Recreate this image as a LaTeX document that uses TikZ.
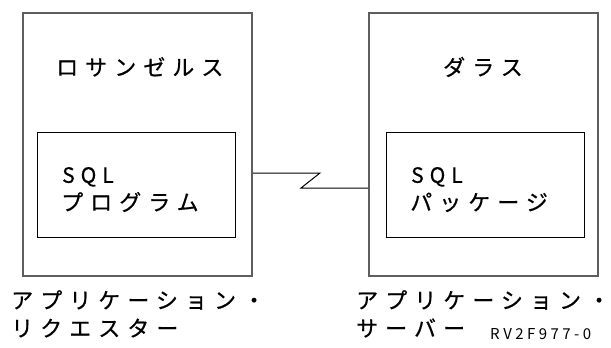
\documentclass[tikz,border=0pt]{standalone}
\usepackage{fontspec}
\newfontfamily\jp[LetterSpace=32,FakeBold=0.6]{Noto Sans CJK JP}
\newfontfamily\jplat[FakeBold=0.6]{Noto Sans CJK JP}
\newfontfamily\jpsmall[LetterSpace=23]{Noto Sans CJK JP}
\definecolor{framegray}{HTML}{5E5E5E}
\newcommand\sqltext{S\kern6pt Q\kern6pt L}
\begin{document}
\begin{tikzpicture}[x=1pt,y=-1pt,
  outerbox/.style={draw=framegray,line width=1.8pt,inner sep=0pt,minimum width=229pt,minimum height=263pt},
  innerbox/.style={draw=black,line width=1pt,inner sep=0pt,minimum width=198pt,minimum height=105pt},
  label/.style={anchor=base west,inner sep=0pt,font=\jp\fontsize{22}{26}\selectfont},
  latlabel/.style={anchor=base west,inner sep=0pt,font=\jplat\fontsize{21}{26}\selectfont},
  tag/.style={anchor=base west,inner sep=0pt,font=\jpsmall\fontsize{15}{17}\selectfont},
  link/.style={draw=black,line width=1pt}]
\useasboundingbox (0,0) rectangle (611,348);
% boxes
\node[outerbox] (la) at (137.5,144.5) {};
\node[innerbox] (li) at (136,184.5) {};
\node[outerbox] (ra) at (483.5,144.5) {};
\node[innerbox] (ri) at (485,184.5) {};
% connector
\coordinate (c1) at (320,173);
\coordinate (c2) at (301,188);
\draw[link] (la.east |- c1) -- (c1) -- (c2) -- (ra.west |- c2);
% texts
\node[label] (t1) at (56,75.5) {ロサンゼルス};
\node[latlabel] (t2) at (62,182.8) {\sqltext};
\node[label] (t3) at (61,210.5) {プログラム};
\node[label] (t4) at (443,75.5) {ダラス};
\node[latlabel] (t5) at (411,182.8) {\sqltext};
\node[label] (t6) at (410,210.5) {パッケージ};
\node[label] (t7) at (11,308.5) {アプリケーション・};
\node[label] (t8) at (11,336.5) {リクエスター};
\node[label] (t9) at (356,308.5) {アプリケーション・};
\node[label] (t10) at (356,336.5) {サーバー};
\node[tag] (t11) at (490,339) {RV2F977-0};
\end{tikzpicture}
\end{document}
